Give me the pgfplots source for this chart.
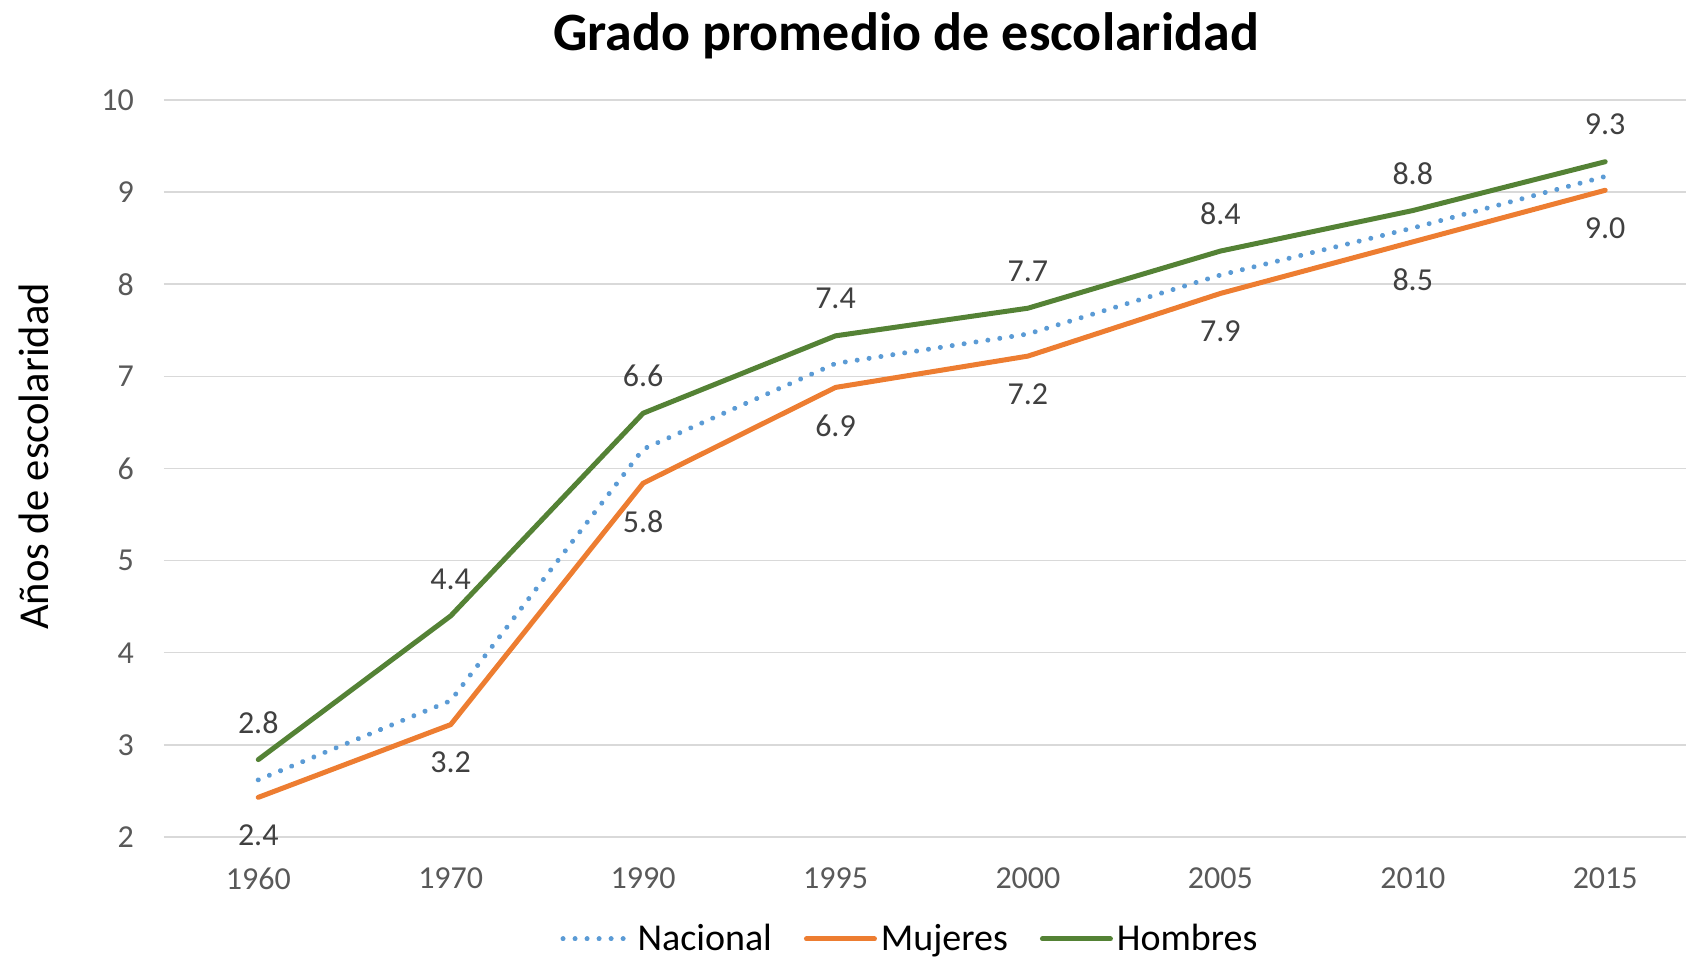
\documentclass[border=0pt]{standalone}
\usepackage{fontspec}
\setmainfont{Carlito}
\usepackage{pgfplots}
\pgfplotsset{compat=1.18}
\usetikzlibrary{calc}
\definecolor{nacblue}{RGB}{91,155,213}
\definecolor{mujorange}{RGB}{237,125,49}
\definecolor{homgreen}{RGB}{84,130,53}
\definecolor{gridgray}{RGB}{217,217,217}
\definecolor{ticktext}{RGB}{89,89,89}
\definecolor{labeltext}{RGB}{64,64,64}

\begin{document}
\begin{tikzpicture}
% page frame: 1686 x 962 px at 0.5pt per px
\path[use as bounding box] (-82pt,-62.5pt) rectangle (761pt,418.5pt);
\begin{axis}[
  at={(0,0)}, anchor=south west,
  scale only axis,
  width=761pt, height=368.5pt,
  xmin=-0.49, xmax=7.42,
  ymin=2, ymax=10,
  xtick={0,...,7},
  xticklabels={1960,1970,1990,1995,2000,2005,2010,2015},
  ytick={2,...,10},
  ymajorgrids,
  grid style={gridgray, line width=0.75pt},
  axis line style={draw=none},
  major tick length=0pt,
  tick label style={font=\fontsize{16}{18}\selectfont, text=ticktext},
  xticklabel style={yshift=-12pt},
  yticklabel style={xshift=-11.5pt},
  /pgf/number format/assume math mode=true,
  legend columns=3,
  legend style={draw=none, fill=none, at={(373.5pt,-51pt)}, anchor=center,
    font=\fontsize{19}{21}\selectfont,
    /tikz/every even column/.append style={column sep=14pt}},
  legend image code/.code={\draw[#1] (0pt,0pt) -- (34pt,0pt);},
  legend cell align=left,
  clip=false,
]
\addplot[nacblue, line width=2.5pt, line cap=round, dash pattern=on 0.01pt off 6pt]
  coordinates {(0,2.62) (1,3.48) (2,6.21) (3,7.14) (4,7.46) (5,8.10) (6,8.61) (7,9.17)};
\addlegendentry{Nacional}

\addplot[mujorange, line width=2.5pt, line cap=round, line join=round,
  nodes near coords, point meta=y,
  nodes near coords style={font=\fontsize{16}{18}\selectfont, text=labeltext,
    anchor=center, yshift=-19pt,
    /pgf/number format/.cd, fixed, precision=1, zerofill}]
  coordinates {(0,2.43) (1,3.22) (2,5.84) (3,6.88) (4,7.22) (5,7.90) (6,8.46) (7,9.02)};
\addlegendentry{Mujeres}

\addplot[homgreen, line width=2.5pt, line cap=round, line join=round,
  nodes near coords, point meta=y,
  nodes near coords style={font=\fontsize{16}{18}\selectfont, text=labeltext,
    anchor=center, yshift=18.5pt,
    /pgf/number format/.cd, fixed, precision=1, zerofill}]
  coordinates {(0,2.84) (1,4.40) (2,6.60) (3,7.44) (4,7.74) (5,8.36) (6,8.80) (7,9.33)};
\addlegendentry{Hombres}

\node[font=\bfseries\fontsize{27}{30}\selectfont, anchor=center]
  at ($(rel axis cs:0,1)+(371pt,32pt)$) {Grado promedio de escolaridad};
\node[font=\fontsize{21.3}{23}\selectfont, rotate=90, anchor=center]
  at ($(rel axis cs:0,0.5)+(-65pt,6pt)$) {Años de escolaridad};
\end{axis}
\end{tikzpicture}
\end{document}
